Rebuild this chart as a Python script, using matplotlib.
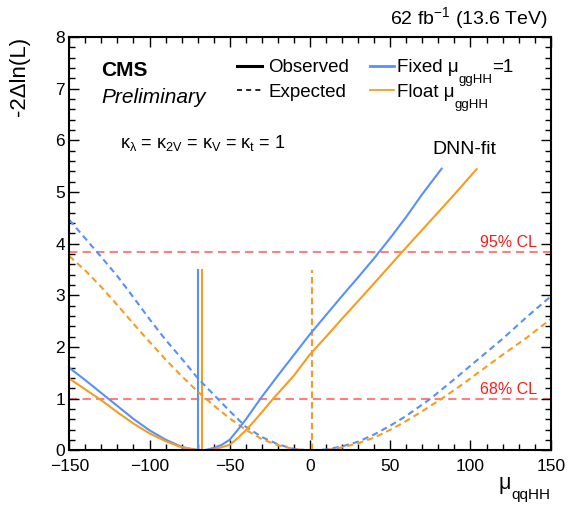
import matplotlib
matplotlib.use('Agg')
import matplotlib.pyplot as plt
from matplotlib.lines import Line2D
from matplotlib.transforms import IdentityTransform
from matplotlib.ticker import MultipleLocator

plt.rcParams['font.family'] = ['Liberation Sans', 'DejaVu Sans']
plt.rcParams['mathtext.fontset'] = 'custom'
plt.rcParams['mathtext.rm'] = 'Liberation Sans'
plt.rcParams['mathtext.it'] = 'Liberation Sans:italic'
plt.rcParams['mathtext.bf'] = 'Liberation Sans:bold'
plt.rcParams['mathtext.default'] = 'regular'

# observed scan, mu_ggHH fixed to 1
mu_obs_fixed = [-150, -140, -130, -120, -110, -100, -90, -80, -70, -65, -60, -55, -50, -45,
                -40, -35, -30, -20, -10, 0, 10, 20, 30, 40, 50, 60, 70, 82]
nll_obs_fixed = [1.60, 1.36, 1.11, 0.86, 0.61, 0.39, 0.21, 0.07, 0.0, 0.01, 0.05, 0.11, 0.21, 0.40,
                 0.60, 0.82, 1.04, 1.45, 1.85, 2.25, 2.62, 2.99, 3.35, 3.72, 4.11, 4.52, 4.96, 5.45]

# observed scan, mu_ggHH floating
mu_obs_float = [-150, -140, -130, -120, -110, -100, -90, -80, -67, -60, -50, -45, -40, -35,
                -30, -23, -10, 0, 10, 20, 30, 43.6, 57.7, 70.6, 89.3, 103.8]
nll_obs_float = [1.39, 1.18, 0.97, 0.74, 0.52, 0.33, 0.18, 0.06, 0.0, 0.02, 0.11, 0.24, 0.39, 0.56,
                 0.74, 1.0, 1.45, 1.86, 2.20, 2.55, 2.89, 3.36, 3.85, 4.29, 4.93, 5.44]

# expected scan, mu_ggHH fixed to 1
mu_exp_fixed = [-150, -140, -130, -120, -110, -100, -90, -80, -70, -60, -50, -40, -30, -20, -10,
                0, 10, 20, 30, 40, 50, 60, 75, 90, 105, 120, 135, 150]
nll_exp_fixed = [4.46, 4.10, 3.74, 3.37, 2.96, 2.54, 2.14, 1.78, 1.40, 1.08, 0.76, 0.46, 0.26, 0.12, 0.03,
                 0.0, 0.02, 0.08, 0.17, 0.31, 0.48, 0.67, 1.0, 1.38, 1.77, 2.16, 2.58, 2.98]

# expected scan, mu_ggHH floating
mu_exp_float = [-150, -140, -130, -120, -110, -100, -90, -80, -70, -60, -50, -40, -30, -20, -10,
                0, 10, 20, 30, 40, 50, 60, 70, 82, 95, 105, 120, 135, 150]
nll_exp_float = [3.76, 3.48, 3.16, 2.81, 2.45, 2.10, 1.76, 1.44, 1.14, 0.87, 0.62, 0.40, 0.22, 0.10, 0.03,
                 0.0, 0.01, 0.06, 0.14, 0.25, 0.40, 0.57, 0.76, 1.0, 1.28, 1.51, 1.85, 2.18, 2.54]

# best-fit markers
best_obs_fixed = -70
best_obs_float = -67
best_exp = 1
marker_height = 3.5

cl_levels = [1.0, 3.84]
cl_labels = ['68% CL', '95% CL']

blue = '#5790fc'
orange = '#f89c20'
dash = (0, (3, 2))

W, H = 580, 519
fig = plt.figure(figsize=(W / 100, H / 100), dpi=100)
ax = fig.add_axes([0.1195, 0.132, 0.830, 0.797])
renderer = fig.canvas.get_renderer()


def put_pieces(X, Y, pieces, align='left'):
    # pieces: (text, size, drop in px); X, Y in image pixels (Y from top, main baseline)
    texts = []
    widths = []
    for s, size, drop in pieces:
        t = fig.text(0, 0, s, fontsize=size, ha='left', va='baseline',
                     transform=IdentityTransform())
        texts.append((t, drop))
        widths.append(t.get_window_extent(renderer=renderer).width)
    cur = X - sum(widths) if align == 'right' else X
    for (t, drop), w in zip(texts, widths):
        t.set_position((cur, H - Y - drop))
        cur += w


def legend_line(X1, X2, Y, **kw):
    fig.add_artist(Line2D([X1, X2], [H - Y, H - Y], transform=IdentityTransform(), **kw))


# CL lines
for lvl, lab in zip(cl_levels, cl_labels):
    ax.axhline(lvl, color='red', alpha=0.5, lw=1.5, ls=(0, (4, 2.5)), zorder=1)
    ax.text(141.5, lvl + 0.03, lab, color='red', alpha=0.9, fontsize=11.5,
            ha='right', va='bottom', zorder=2)

# best-fit vertical lines
ax.plot([best_exp, best_exp], [0, marker_height], color=blue, lw=1.5, ls=dash)
ax.plot([best_exp, best_exp], [0, marker_height], color=orange, lw=1.5, ls=dash)
ax.plot([best_obs_fixed, best_obs_fixed], [0, marker_height], color=blue, lw=1.5)
ax.plot([best_obs_float, best_obs_float], [0, marker_height], color=orange, lw=1.5)

# scans
ax.plot(mu_exp_fixed, nll_exp_fixed, color=blue, lw=1.5, ls=dash)
ax.plot(mu_exp_float, nll_exp_float, color=orange, lw=1.5, ls=dash)
ax.plot(mu_obs_fixed, nll_obs_fixed, color=blue, lw=1.5)
ax.plot(mu_obs_float, nll_obs_float, color=orange, lw=1.5)

ax.set_xlim(-150, 150)
ax.set_ylim(0, 8)
ax.xaxis.set_major_locator(MultipleLocator(50))
ax.xaxis.set_minor_locator(MultipleLocator(10))
ax.yaxis.set_major_locator(MultipleLocator(1))
ax.yaxis.set_minor_locator(MultipleLocator(0.2))
ax.tick_params(which='both', direction='in', top=True, right=True, width=1.0, labelsize=12.5)
ax.tick_params(which='major', length=7.5)
ax.tick_params(which='minor', length=4)
ax.tick_params(axis='x', pad=6)
ax.tick_params(axis='y', pad=3)
for s in ax.spines.values():
    s.set_linewidth(1.5)

# axis titles
ax.text(-0.103, 1.0, '-2\u0394ln(L)', transform=ax.transAxes, rotation=90,
        ha='center', va='top', fontsize=16)
put_pieces(550, 488.5, [('\u03bc', 15.5, 0), ('qqHH', 11, 11)], align='right')

# legend
legend_line(236.7, 261.7, 65.7, color='black', lw=2.2)
legend_line(236.7, 261.7, 90.0, color='black', lw=1.2, ls=(0, (3, 2.5)))
legend_line(370.0, 394.0, 65.7, color=blue, lw=2.0)
legend_line(370.0, 394.0, 90.0, color=orange, lw=1.3)
put_pieces(268.3, 72.5, [('Observed', 13.5, 0)])
put_pieces(268.3, 96.8, [('Expected', 13.5, 0)])
put_pieces(396.7, 72.5, [('Fixed \u03bc', 13.5, 0), ('ggHH', 9.5, 11), ('=1', 13.5, 0)])
put_pieces(396.7, 96.8, [('Float \u03bc', 13.5, 0), ('ggHH', 9.5, 11)])

# labels
ax.text(0.067, 0.918, 'CMS', transform=ax.transAxes, fontsize=15, fontweight='bold',
        ha='left', va='center')
ax.text(0.067, 0.853, 'Preliminary', transform=ax.transAxes, fontsize=15, style='italic',
        ha='left', va='center')
ax.text(0.105, 0.743, '\u03ba$_{\u03bb}$ = \u03ba$_{2V}$ = \u03ba$_{V}$ = \u03ba$_{t}$ = 1',
        transform=ax.transAxes, fontsize=13, ha='left', va='center')
ax.text(0.820, 0.728, 'DNN-fit', transform=ax.transAxes, fontsize=14,
        ha='center', va='center')
ax.text(0.994, 1.032, '62 fb$^{-1}$ (13.6 TeV)', transform=ax.transAxes, fontsize=14,
        ha='right', va='baseline')

fig.savefig('out.png', dpi=100)
